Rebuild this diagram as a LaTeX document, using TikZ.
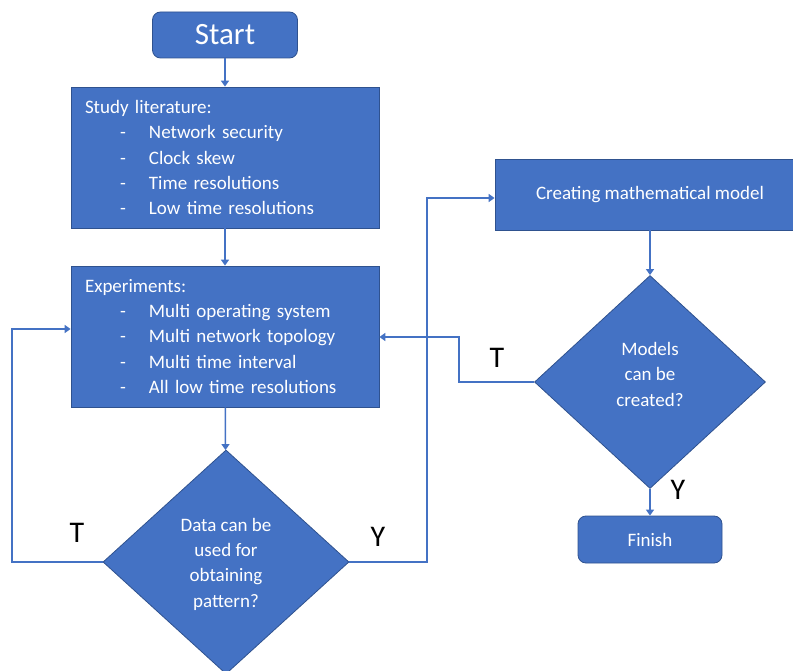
\documentclass[tikz,border=0pt]{standalone}
\usepackage{fontspec}
\setmainfont{Carlito}
\usetikzlibrary{shapes.geometric,arrows.meta}
\definecolor{boxblue}{HTML}{4472C4}
\definecolor{edgeblue}{HTML}{2F528F}
\newcommand{\itm}[1]{\makebox[64pt][l]{\hspace*{35pt}-}#1}
\begin{document}
\begin{tikzpicture}[x=1pt,y=-1pt,
  shapebox/.style={draw=edgeblue,fill=boxblue,line width=0.8pt,text=white,
    font=\fontsize{19}{25.3}\selectfont},
  listbox/.style={shapebox,minimum width=308pt,minimum height=141pt,text width=280pt,
    inner xsep=14pt,align=left},
  termbox/.style={shapebox,rounded corners=8pt,minimum width=145pt,minimum height=46pt},
  decision/.style={shapebox,diamond,inner sep=0pt,align=center},
  conn/.style={draw=boxblue,line width=1.5pt,-{Triangle[length=6pt,width=8pt]}},
  lab/.style={font=\fontsize{30}{30}\selectfont,text=black}
]
\useasboundingbox (0,0) rectangle (793,671);

\node[termbox,font=\fontsize{31}{31}\selectfont] (start) at (225,35) {Start};
\node[listbox] (study) at (225,157.5) {Study literature:\\
\itm{Network security}\\
\itm{Clock skew}\\
\itm{Time resolutions}\\
\itm{Low time resolutions}};
\node[listbox] (exp) at (225,336.5) {Experiments:\\
\itm{Multi operating system}\\
\itm{Multi network topology}\\
\itm{Multi time interval}\\
\itm{All low time resolutions}};
\node[decision,minimum width=246pt,minimum height=224pt] (d1) at (226,562)
  {\raisebox{-6.5pt}[0pt][0pt]{\begin{tabular}{@{}c@{}}Data can be\\used for\\obtaining\\pattern?\end{tabular}}};
\node[shapebox,minimum width=310pt,minimum height=71pt] (create) at (650,194.5)
  {Creating mathematical model};
\node[decision,minimum width=231pt,minimum height=213pt] (d2) at (650,382)
  {\raisebox{2pt}[0pt][0pt]{\begin{tabular}{@{}c@{}}Models\\can be\\created?\end{tabular}}};
\node[termbox,minimum width=144pt,minimum height=47pt] (finish) at (650,539.5) {Finish};

\coordinate (c1) at (12,329);
\coordinate (c2) at (427,198);
\coordinate (c3) at (459,337);

\draw[conn] (start) -- (study);
\draw[conn] (study) -- (exp);
\draw[conn] (exp) -- (d1);
\draw[conn] (d1.west) -| (c1) -- (exp.west |- c1);
\draw[conn] (d1.east) -| (c2) -- (create.west |- c2);
\draw[conn] (create) -- (d2);
\draw[conn] (d2.west) -| (c3) -- (exp.east |- c3);
\draw[conn] (d2) -- (finish);

\node[lab] (t1) at (77,533) {T};
\node[lab] (y1) at (378,537) {Y};
\node[lab] (t2) at (497,358) {T};
\node[lab] (y2) at (678,490) {Y};
\end{tikzpicture}
\end{document}
